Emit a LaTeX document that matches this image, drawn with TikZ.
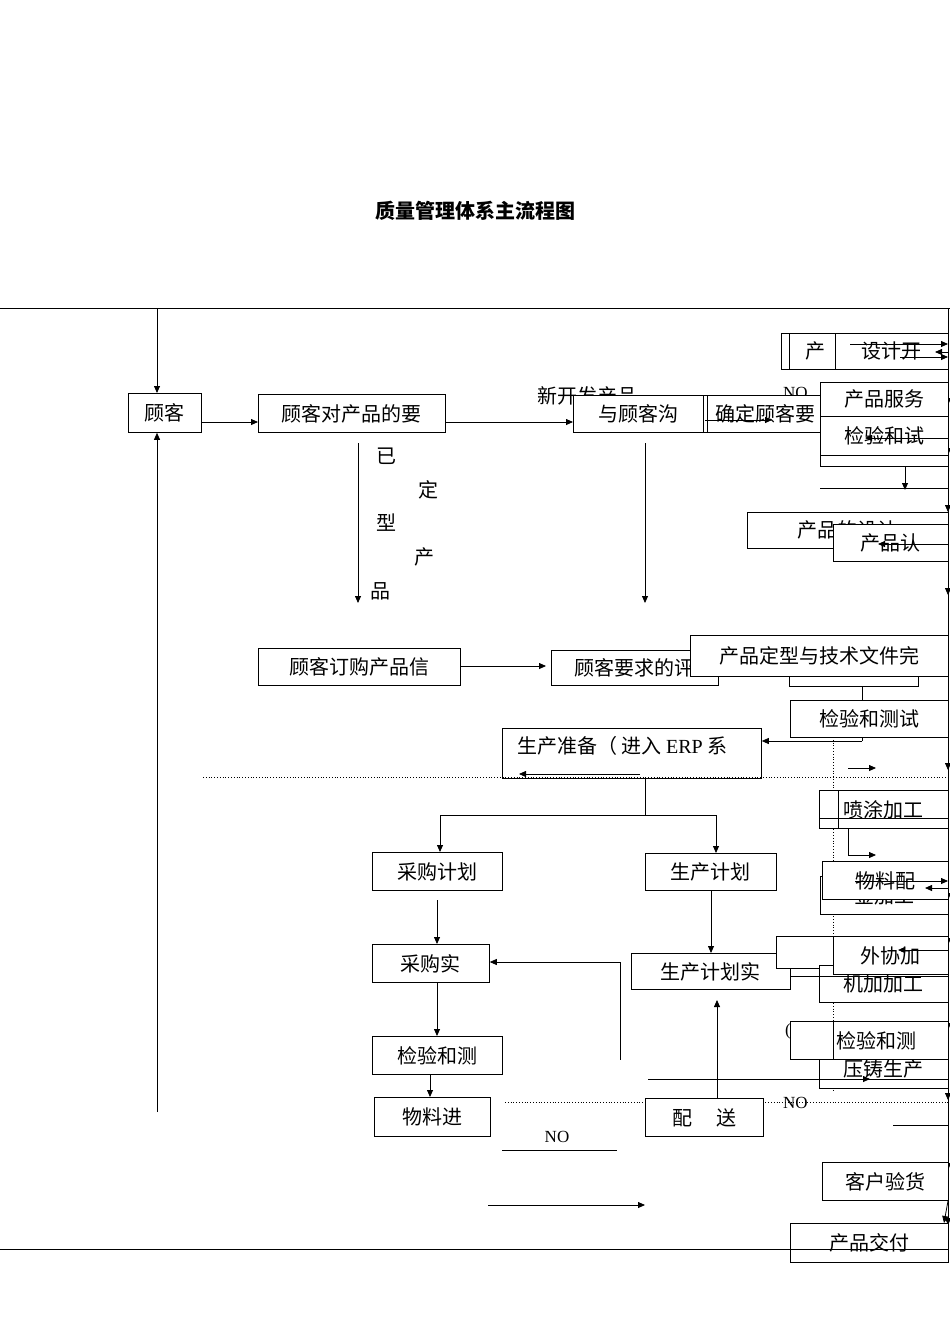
\documentclass[tikz,border=0pt]{standalone}
\usepackage{fontspec}
\setmainfont{Noto Sans CJK SC}
\newfontfamily\latinfont{Liberation Serif}
\usetikzlibrary{arrows.meta}
\tikzset{
  bx/.style={draw,fill=white,anchor=north west,inner sep=0pt,font=\fontsize{20}{23}\selectfont,line width=0.8pt},
  ar/.style={-{Triangle[length=7pt,width=6pt]},line width=0.8pt},
  ln/.style={line width=0.8pt},
  dt/.style={dotted,line width=0.8pt},
  lbl/.style={font=\fontsize{20}{23}\selectfont,inner sep=0pt}
}
\newcommand{\bxx}[6]{\node[bx,minimum width=#4pt,minimum height=#5pt] (#1) at (#2,#3) {#6};}
\begin{document}
\begin{tikzpicture}[x=1pt,y=-1pt]
\useasboundingbox (0,0) rectangle (950,1344);
\node[font=\fontsize{20}{24}\selectfont\bfseries] (title) at (475,211) {质量管理体系主流程图};
% frame
\coordinate (ft0) at (0,308); \coordinate (ft1) at (950,308);
\draw[ln] (ft0) -- (ft1);
\coordinate (fb0) at (0,1249); \coordinate (fb1) at (948,1249);
\draw[ln] (fb0) -- (fb1);
\coordinate (r0) at (948,308); \coordinate (r1) at (948,1262);
\draw[ln] (r0) -- (r1);
\foreach \yy in {405,455,512,595,770,900,945,1030,1100,1170,1225}{\draw[ar] (948,\yy-8) -- (948,\yy);}
\coordinate (c1) at (157,308);
% row 1
\bxx{gk}{128}{393}{73}{39}{顾客}
\draw[ar] (c1) -- (c1 |- gk.north);
\bxx{yq}{258}{394}{187}{38}{顾客对产品的要}
\draw[ar] (gk.east |- 0,422) -- (yq.west |- 0,422);
\node[lbl,anchor=west] (xk) at (537,396) {新开发产品};
\node[lbl,anchor=west,font=\latinfont\fontsize{17}{20}\selectfont] (no1) at (783,393) {NO};
\bxx{gt}{573}{395}{130}{37}{与顾客沟}
\draw[ar] (yq.east |- 0,422) -- (gt.west |- 0,422);
\bxx{qd}{703}{395}{120}{37}{\ 确定顾客要}
\draw[ln] (707,395) -- (707,432);
\coordinate (q1) at (705,420); \coordinate (q2) at (772,420);
\draw[ar] (q1) -- (q2);
\bxx{cp}{781}{333}{60}{36}{\ \ 产}
\draw[ln] (789,333) -- (789,369);
\bxx{sj}{835}{333}{113}{36}{设计开}
\coordinate (s1) at (850,344); \coordinate (s2) at (948,344);
\draw[ar] (s1) -- (s2);
\coordinate (s3) at (948,357); \coordinate (s4) at (900,357);
\draw[ar] (s4) -- (s3); \draw[ar] (948,352) -- (935,352);
\bxx{b3}{820}{440}{128}{26}{}
\bxx{fw}{820}{382}{128}{34}{产品服务}
\bxx{jy1}{820}{416}{128}{39}{检验和试}
\coordinate (j1) at (948,438); \coordinate (j2) at (865,438);
\draw[ar] (j1) -- (j2);
\draw[ln] (820,455) -- (948,455);
\coordinate (d1) at (905,466); \coordinate (d2) at (905,490);
\draw[ar] (d1) -- (d2);
\coordinate (l1) at (820,488); \coordinate (l2) at (948,488);
\draw[ln] (l1) -- (l2);
\bxx{sjps}{747}{512}{201}{36}{产品的设计}
\bxx{rz}{833}{524}{115}{37}{产品认}
\coordinate (rz1) at (948,544); \coordinate (rz2) at (878,544);
\draw[ar] (rz1) -- (rz2);
% vertical text
\node[lbl] (v1) at (386,456) {已};
\node[lbl] (v2) at (428,490) {定};
\node[lbl] (v3) at (386,523) {型};
\node[lbl] (v4) at (424,557) {产};
\node[lbl] (v5) at (380,591) {品};
\coordinate (a1) at (358,443); \coordinate (a2) at (358,603);
\draw[ar] (a1) -- (a2);
\coordinate (a3) at (645,443); \coordinate (a4) at (645,603);
\draw[ar] (a3) -- (a4);
% row 2
\bxx{dg}{258}{648}{202}{37}{顾客订购产品信}
\bxx{ps}{551}{650}{167}{35}{顾客要求的评}
\draw[ar] (dg.east |- 0,666) -- (546,666);
\bxx{br}{789}{670}{129}{16}{}
\bxx{dx}{690}{635}{258}{41}{产品定型与技术文件完}
\bxx{jy2}{790}{700}{158}{37}{检验和测试}
\draw[ln] (862,686) -- (jy2.north -| 862,0);
\bxx{zb}{502}{728}{259}{50}{}
\node[lbl,anchor=west] (zbt) at (517,746) {生产准备（ 进入 {\latinfont ERP} 系};
\draw[ln] (862,737) -- (862,741);
\draw[ar] (862,741) -- (zb.east |- 0,741);
\coordinate (dl0) at (203,777); \coordinate (dl1) at (948,777);
\draw[dt] (dl0) -- (dl1);
\coordinate (e1) at (640,774); \coordinate (e2) at (519,774);
\draw[ar] (e1) -- (e2);
\coordinate (e3) at (848,768); \coordinate (e4) at (876,768);
\draw[ar] (e3) -- (e4);
\draw[dt] (833,737) -- (833,1090);
% split
\draw[ln] (645,778) -- (645,815);
\draw[ln] (440,815) -- (716,815);
\bxx{cg}{372}{852}{130}{38}{采购计划}
\bxx{sc}{645}{853}{131}{37}{生产计划}
\draw[ar] (440,815) -- (cg.north -| 440,0);
\draw[ar] (716,815) -- (sc.north -| 716,0);
\bxx{cs}{372}{944}{117}{38}{采购实}
\draw[ar] (437,900) -- (cs.north -| 437,0);
\coordinate (f1) at (620,962);
\draw[ar] (f1) -- (cs.east |- 0,962);
\coordinate (f2) at (620,1060); \draw[ln] (f1) -- (f2);
\bxx{jy3}{372}{1036}{130}{38}{检验和测}
\draw[ar] (cs.south -| 437,0) -- (jy3.north -| 437,0);
\bxx{wl}{374}{1097}{116}{39}{物料进}
\draw[ar] (jy3.south -| 430,0) -- (wl.north -| 430,0);
\coordinate (g0) at (157,1112);
\draw[ar] (g0) -- (gk.south -| 157,0);
\coordinate (h0) at (505,1102); \coordinate (h1) at (948,1102);
\draw[dt] (h0) -- (h1);
\bxx{scs}{631}{953}{159}{36}{生产计划实}
\draw[ar] (sc.south -| 711,0) -- (scs.north -| 711,0);
\bxx{ps2}{645}{1098}{118}{38}{配\quad\ 送}
\draw[ar] (ps2.north -| 717,0) -- (717,1000);
\node[lbl,anchor=west,font=\latinfont\fontsize{17}{20}\selectfont] (no2) at (783,1103) {NO};
\node[lbl,font=\latinfont\fontsize{17}{20}\selectfont] (no3) at (557,1137) {NO};
\coordinate (n1) at (502,1150); \coordinate (n2) at (617,1150);
\draw[ln] (n1) -- (n2);
\coordinate (n3) at (488,1205); \coordinate (n4) at (645,1205);
\draw[ar] (n3) -- (n4);
% right column
\bxx{pt}{819}{790}{129}{38}{喷涂加工}
\draw[ln] (838,790) -- (838,828);
\draw[ln] (pt.west |- 0,818) -- (948,818);
\draw[ln] (848,828) -- (848,855);
\coordinate (p1) at (848,855); \coordinate (p2) at (876,855);
\draw[ar] (p1) -- (p2);
\bxx{jjg}{820}{876}{128}{38}{金加工}
\bxx{wlp}{822}{861}{126}{38}{物料配}
\coordinate (w1) at (855,881); \coordinate (w2) at (948,881);
\draw[ar] (w1) -- (w2);
\draw[ar] (948,888) -- (925,888);
\bxx{zp}{776}{936}{172}{32}{\ 装配\hspace{100pt}}
\bxx{jj}{819}{965}{129}{37}{机加加工}
\bxx{wx}{833}{936}{115}{38}{外协加}
\coordinate (x1) at (948,950); \coordinate (x2) at (898,950);
\draw[ar] (x1) -- (x2);
\draw[ln] (scs.east |- 0,976) -- (948,976);
\bxx{yz}{819}{1050}{129}{38}{压铸生产}
\bxx{jy4}{790}{1021}{158}{38}{\ \ \ 检验和测}
\node[lbl,font=\latinfont\fontsize{17}{20}\selectfont] (pp) at (788,1031) {(};
\draw[ln] (833,1021) -- (833,1059);
\coordinate (y1) at (648,1079); \coordinate (y2) at (948,1079);
\draw[ln] (y1) -- (y2);
\draw[ar] (840,1079) -- (870,1079);
\coordinate (z1) at (893,1125); \coordinate (z2) at (948,1125);
\draw[ln] (z1) -- (z2);
\bxx{yh}{822}{1162}{126}{38}{客户验货}
\bxx{jf}{790}{1223}{158}{39}{产品交付}
\draw[ar] (yh.south -| 948,0) -- (jf.north -| 944,0);
\draw[ln] (634,1249) -- (948,1249);
\end{tikzpicture}
\end{document}
